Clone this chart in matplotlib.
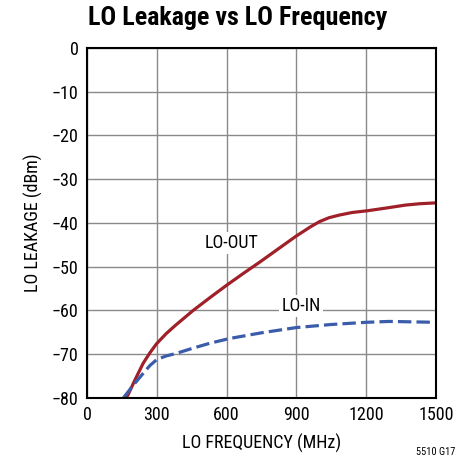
import matplotlib.pyplot as plt
from matplotlib import font_manager

# LO leakage vs LO frequency
out_freq = [170, 205, 241, 270, 299, 340, 380, 456, 530, 601, 670, 741, 820, 899,
            960, 999, 1040, 1084, 1140, 1206, 1284, 1370, 1430, 1500]
out_dbm = [-80, -76.0, -72.1, -69.7, -67.6, -65.3, -63.4, -60.0, -57.0, -54.2, -51.6, -49.0,
           -46.0, -43.0, -40.9, -39.7, -38.8, -38.2, -37.6, -37.2, -36.6, -35.9, -35.6, -35.4]

in_freq = [156, 200, 241, 270, 300, 340, 384, 450, 527, 613, 750, 900, 1050, 1200, 1300, 1400, 1500]
in_dbm = [-80, -77.0, -74.4, -72.6, -71.2, -70.4, -69.8, -68.7, -67.5, -66.4, -65.1, -63.9,
          -63.2, -62.7, -62.5, -62.6, -62.7]

xticks = [0, 300, 600, 900, 1200, 1500]
yticks = [0, -10, -20, -30, -40, -50, -60, -70, -80]

names = {f.name for f in font_manager.fontManager.ttflist}
fam = [n for n in ['Roboto Condensed', 'Archivo Narrow', 'PT Sans Narrow',
                   'Pragati Narrow', 'Liberation Sans Narrow'] if n in names][:1]
plt.rcParams['font.family'] = fam + ['Liberation Sans', 'DejaVu Sans']

fig = plt.figure(figsize=(4.76, 4.65), dpi=100)
ax = fig.add_axes([0.1828, 0.1441, 0.733, 0.7527])

ax.plot(out_freq, out_dbm, color='#A0202A', lw=2.3, solid_capstyle='butt')
ax.plot(in_freq, in_dbm, color='#3A5CAA', lw=2.3, dashes=(4.2, 1.6))

ax.set_xlim(0, 1500)
ax.set_ylim(-80, 0)
ax.set_xticks(xticks)
ax.set_yticks(yticks)
ax.set_yticklabels(['0' if v == 0 else '\u2212%d' % -v for v in yticks])
ax.tick_params(length=0, labelsize=13, pad=6)
ax.grid(True, color='#8a8a8a', lw=1)
ax.set_axisbelow(True)
for s in ax.spines.values():
    s.set_linewidth(1.5)

ax.text(620, -44.5, 'LO-OUT', ha='center', va='center', fontsize=13,
        bbox=dict(facecolor='white', edgecolor='none', pad=1.5))
ax.text(920, -59, 'LO-IN', ha='center', va='center', fontsize=13,
        bbox=dict(facecolor='white', edgecolor='none', pad=1.5))

ax.set_xlabel('LO FREQUENCY (MHz)', fontsize=13, labelpad=7)
ax.set_ylabel('LO LEAKAGE (dBm)', fontsize=13, labelpad=6)

fig.text(0.5, 0.962, 'LO Leakage vs LO Frequency', ha='center', va='center',
         fontsize=18.7, fontweight='bold')
fig.text(0.915, 0.028, '5510 G17', ha='center', va='center', fontsize=7.5)

fig.savefig('out.png', dpi=100)
